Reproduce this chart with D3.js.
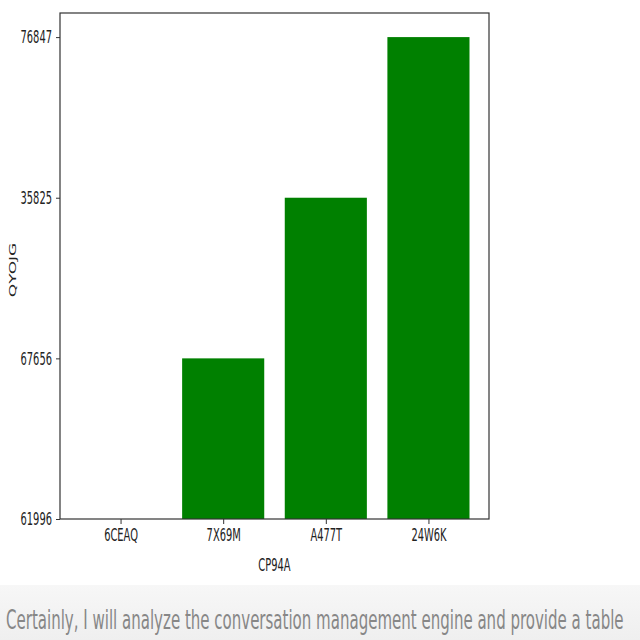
<!DOCTYPE html>
<html>
<head>
<meta charset="utf-8">
<script src="https://cdn.jsdelivr.net/npm/d3@7/dist/d3.min.js"></script>
<style>
  html, body { margin: 0; padding: 0; background: #ffffff; }
  svg { display: block; }
  text { font-family: "DejaVu Sans", sans-serif; }
</style>
</head>
<body>
<svg id="chart" width="640" height="640"></svg>
<script>
// ---- data ----
const categories = ["6CEAQ", "7X69M", "A477T", "24W6K"];
const values = [61996, 67656, 35825, 76847];
const yTickLabels = [61996, 67656, 35825, 76847];
const xAxisLabel = "CP94A";
const yAxisLabel = "QYOJG";
const caption = "Certainly, I will analyze the conversation management engine and provide a table";

// ---- layout ----
const W = 640, H = 640;
const plot = { left: 60, right: 489, top: 13, bottom: 519 };
const SX = 0.55; // horizontal squeeze of text

const svg = d3.select("#chart");

// categorical y: each value sits at its index in yTickLabels
const yIndex = v => yTickLabels.indexOf(v);
const n = categories.length;
const xPad = 0.4 + 0.05 * (n - 1 + 0.8);
const x = d3.scaleLinear().domain([-xPad, n - 1 + xPad]).range([plot.left, plot.right]);
const yMax = (yTickLabels.length - 1) * 1.05;
const y = d3.scaleLinear().domain([0, yMax]).range([plot.bottom, plot.top]);
const barW = x(0.8) - x(0);

function squeeze(sel) {
  sel.each(function () {
    const t = d3.select(this);
    const tx = +t.attr("x") || 0, ty = +t.attr("y") || 0;
    t.attr("transform", `translate(${tx},${ty}) scale(${SX},1) translate(${-tx},${-ty})`);
  });
}

// bars
svg.append("g").selectAll("rect")
  .data(categories)
  .join("rect")
  .attr("x", (d, i) => x(i) - barW / 2)
  .attr("width", barW)
  .attr("y", (d, i) => y(yIndex(values[i])))
  .attr("height", (d, i) => y(0) - y(yIndex(values[i])))
  .attr("fill", "#008000");

// x axis
const xAxis = d3.axisBottom(x)
  .tickValues(d3.range(n))
  .tickFormat(i => categories[i])
  .tickSize(5).tickPadding(4);
const gx = svg.append("g").attr("transform", `translate(0,${plot.bottom})`).call(xAxis);
gx.select(".domain").remove();
gx.selectAll("line").attr("stroke", "#333");
gx.selectAll("text").attr("font-size", 18).attr("fill", "#222")
  .attr("font-family", "DejaVu Sans, sans-serif").call(squeeze);

// y axis
const yAxis = d3.axisLeft(y)
  .tickValues(d3.range(yTickLabels.length))
  .tickFormat(i => yTickLabels[i])
  .tickSize(4).tickPadding(4);
const gy = svg.append("g").attr("transform", `translate(${plot.left},0)`).call(yAxis);
gy.select(".domain").remove();
gy.selectAll("line").attr("stroke", "#333");
gy.selectAll("text").attr("font-size", 18).attr("fill", "#222")
  .attr("font-family", "DejaVu Sans, sans-serif").call(squeeze);

// frame
svg.append("rect")
  .attr("x", plot.left).attr("y", plot.top)
  .attr("width", plot.right - plot.left).attr("height", plot.bottom - plot.top)
  .attr("fill", "none").attr("stroke", "#333").attr("stroke-width", 1.2);

// axis labels
svg.append("text")
  .attr("x", (plot.left + plot.right) / 2).attr("y", 571)
  .attr("text-anchor", "middle").attr("font-size", 18).attr("fill", "#222")
  .text(xAxisLabel).call(squeeze);

svg.append("text")
  .attr("transform", `translate(16,${(plot.top + plot.bottom) / 2 + 4}) scale(${SX},1) rotate(-90)`)
  .attr("text-anchor", "middle").attr("font-size", 17).attr("fill", "#222")
  .text(yAxisLabel);

// caption band
const grad = svg.append("defs").append("linearGradient")
  .attr("id", "band").attr("x1", 0).attr("y1", 0).attr("x2", 0).attr("y2", 1);
grad.append("stop").attr("offset", "0%").attr("stop-color", "#f7f7f7");
grad.append("stop").attr("offset", "100%").attr("stop-color", "#efefef");
svg.append("rect").attr("x", 0).attr("y", 585).attr("width", W).attr("height", 55)
  .attr("fill", "url(#band)");
const cap = svg.append("text")
  .attr("x", 0).attr("y", 0)
  .attr("font-family", "Inter, 'Noto Sans', sans-serif")
  .attr("font-size", 26).attr("fill", "#878787")
  .text(caption);
const natural = cap.node().getComputedTextLength();
const capScale = 618 / natural;
cap.attr("transform", `translate(6,629) scale(${capScale},1)`);
</script>
</body>
</html>
